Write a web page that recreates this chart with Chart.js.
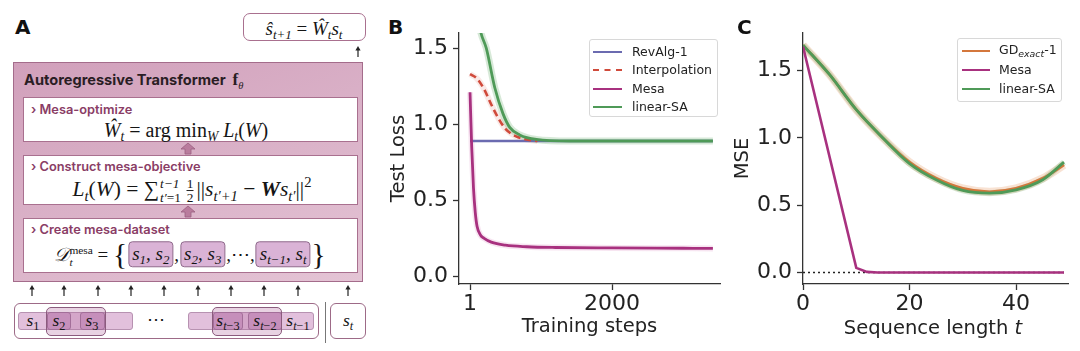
<!DOCTYPE html>
<html><head><meta charset="utf-8">
<script src="https://cdn.jsdelivr.net/npm/chart.js@4.4.0/dist/chart.umd.min.js"></script>
<style>
html,body{margin:0;padding:0;background:#fff;width:1080px;height:351px;overflow:hidden;position:relative;font-family:'DejaVu Sans',sans-serif}
.abs{position:absolute}
.plab{position:absolute;font-family:'DejaVu Sans';font-weight:bold;font-size:20px;color:#111;line-height:1}
.math{position:absolute;font-family:'Liberation Serif',serif;font-style:italic;font-size:19px;color:#151515;white-space:nowrap;transform:translate(-50%,-50%);line-height:1}
.math sub{font-size:0.68em;vertical-align:-0.32em;line-height:0}
.math sup{font-size:0.68em;vertical-align:0.6em;line-height:0}
.up{font-style:normal}
.wbox{position:absolute;background:#fff;border:1.2px solid #a9708f;box-sizing:border-box}
.big{position:absolute;border:1.4px solid #a46c8b;box-sizing:border-box;background:linear-gradient(160deg,#d1a0bb 0%,#dbb3c9 55%,#e4c4d5 100%)}
.head{position:absolute;font-family:Inter,'Noto Sans',sans-serif;font-weight:700;font-size:14.6px;color:#2a1d24;line-height:1;white-space:nowrap}
.sub{position:absolute;font-family:Inter,'Noto Sans',sans-serif;font-weight:600;font-size:12.8px;color:#8a3d66;line-height:1;white-space:nowrap}
.lim{display:inline-flex;flex-direction:column;font-size:0.62em;vertical-align:middle;line-height:1.05;margin:0 3px 0 1px}
.frac{display:inline-flex;flex-direction:column;font-size:0.62em;vertical-align:middle;line-height:1;font-style:normal;margin:0 3px}
.frac span:first-child{border-bottom:1px solid #222}
.hb{display:inline-block;background:#dab3d6;border:1px solid #8f6a8c;border-radius:4px;padding:2px 3px 3px 3px;margin:0 1px}
.brace{font-style:normal;font-size:1.55em;vertical-align:-0.12em;font-weight:300}
.sbsp{display:inline-flex;flex-direction:column;font-size:0.6em;vertical-align:middle;line-height:1.1;font-style:normal}
.strip{position:absolute;background:#e2c0dc;border:1px solid #b792b1;border-radius:3px;box-sizing:border-box}
.sbx{position:absolute;background:#cf9fc8;border:1px solid #9c7097;border-radius:3px;box-sizing:border-box}
.grp{position:absolute;background:rgba(180,105,160,0.30);border:1px solid #8b5b7d;border-radius:5px;box-sizing:border-box}
.sm{position:absolute;font-family:'Liberation Serif',serif;font-style:italic;font-size:17.5px;color:#151515;transform:translate(-50%,-50%);white-space:nowrap;line-height:1}
.sm sub{font-size:0.7em;vertical-align:-0.3em;line-height:0;font-style:normal}
.sm sub i{font-style:italic}
.leg{position:absolute;border:1px solid #d8d8d8;border-radius:3px;background:rgba(255,255,255,0.85);box-sizing:border-box}
.lrow{position:absolute;font-family:'DejaVu Sans';font-size:12.5px;color:#222;line-height:1;white-space:nowrap;transform:translateY(-50%)}
.lline{position:absolute;height:0;transform:translateY(-50%)}
</style></head>
<body>
<!-- Panel A diagram -->
<div class="plab" style="left:15px;top:17px">A</div>
<div class="wbox" style="left:243px;top:13px;width:123px;height:28px;border-radius:7px"></div>
<div class="math" style="left:304px;top:28px">ŝ<sub>t+1</sub> <span class="up">=</span> Ŵ<sub>t</sub>s<sub>t</sub></div>
<div class="big" style="left:13px;top:62px;width:350px;height:220px"></div>
<div class="head" style="left:24px;top:71px">Autoregressive Transformer&nbsp;&nbsp;<span style="font-family:'Liberation Serif';font-size:17px">f</span><sub style="font-family:'Liberation Serif';font-style:italic;font-weight:normal;font-size:10.5px">θ</sub></div>

<div class="wbox" style="left:23px;top:97px;width:335px;height:45px"></div>
<div class="sub" style="left:31px;top:104px">› Mesa-optimize</div>
<div class="math" style="left:186px;top:130px;font-size:20px">Ŵ<sub>t</sub> <span class="up">= arg min</span><sub>W</sub> L<sub>t</sub><span class="up">(</span>W<span class="up">)</span></div>

<div class="wbox" style="left:23px;top:155px;width:335px;height:50px"></div>
<div class="sub" style="left:31px;top:161px">› Construct mesa-objective</div>
<div class="math" style="left:192px;top:191px;font-size:21.5px">L<sub>t</sub><span class="up">(</span>W<span class="up">) = ∑</span><span class="lim"><span>t−1</span><span>t′<span class="up">=1</span></span></span><span class="frac"><span>1</span><span>2</span></span><span class="up">||</span>s<sub>t′+1</sub> <span class="up">−</span> <b>W</b>s<sub>t′</sub><span class="up">||</span><sup class="up">2</sup></div>

<div class="wbox" style="left:23px;top:218px;width:335px;height:55px"></div>
<div class="sub" style="left:31px;top:224px">› Create mesa-dataset</div>
<div class="math" style="left:190px;top:255px"><span>𝒟</span><span class="sbsp"><span>mesa</span><span style="font-style:italic">t</span></span> <span class="up">=</span> <span class="brace">{</span><span class="hb">s<sub>1</sub>, s<sub>2</sub></span>,<span class="hb">s<sub>2</sub>, s<sub>3</sub></span>,<span class="up">⋯</span>,<span class="hb">s<sub>t−1</sub>, s<sub>t</sub></span><span class="brace">}</span></div>

<!-- bottom sequence -->
<div class="wbox" style="left:14px;top:303px;width:305px;height:36px;border-radius:6px;border-color:#9d6a87"></div>
<div class="strip" style="left:18px;top:312px;width:115px;height:18px"></div>
<div class="strip" style="left:188px;top:312px;width:126px;height:18px"></div>
<div class="sbx" style="left:47px;top:312px;width:24px;height:18px"></div>
<div class="sbx" style="left:80px;top:312px;width:25px;height:18px"></div>
<div class="sbx" style="left:213px;top:312px;width:30px;height:18px"></div>
<div class="sbx" style="left:248px;top:312px;width:34px;height:18px"></div>
<div class="grp" style="left:46px;top:307px;width:60px;height:29px"></div>
<div class="grp" style="left:212px;top:307px;width:70px;height:29px"></div>
<div class="sm" style="left:33px;top:321px">s<sub>1</sub></div>
<div class="sm" style="left:59px;top:321px">s<sub>2</sub></div>
<div class="sm" style="left:92px;top:321px">s<sub>3</sub></div>
<div class="sm" style="left:156px;top:320px;font-style:normal">⋯</div>
<div class="sm" style="left:228px;top:321px">s<sub><i>t</i>−3</sub></div>
<div class="sm" style="left:265px;top:321px">s<sub><i>t</i>−2</sub></div>
<div class="sm" style="left:298px;top:321px">s<sub><i>t</i>−1</sub></div>
<div class="abs" style="left:325px;top:302px;width:1px;height:41px;background:#777"></div>
<div class="wbox" style="left:330px;top:303px;width:36px;height:36px;border-radius:6px;border-color:#9d6a87"></div>
<div class="sm" style="left:348px;top:321px">s<sub><i>t</i></sub></div>
<svg id="arrows" class="abs" style="left:0;top:0" width="370" height="351"></svg>

<!-- Panel B -->
<div class="plab" style="left:388px;top:17px">B</div>
<div class="abs" style="left:370px;top:0;width:360px;height:351px"><canvas id="cb" width="360" height="351"></canvas></div>
<div class="leg" style="left:589px;top:39px;width:129px;height:78px"></div>
<div id="legB"></div>

<!-- Panel C -->
<div class="plab" style="left:737px;top:17px">C</div>
<div class="abs" style="left:730px;top:0;width:350px;height:351px"><canvas id="cc" width="350" height="351"></canvas></div>
<div class="abs" style="left:933px;top:328px;transform:translate(-50%,-50%);font-family:'DejaVu Sans';font-size:19.5px;color:#222;white-space:nowrap;line-height:1">Sequence length <i>t</i></div>
<div class="leg" style="left:957px;top:38px;width:105px;height:64px"></div>
<div id="legC"></div>

<script>
// ---------- Panel B data ----------
const bXTicks = [1, 2000];
const bXTickLabels = ['1', '2000'];
const bYTicks = [0, 0.5, 1.0, 1.5];
const bRevSteps = [1, 3420];
const bRevLoss = [0.89, 0.89];
const bInterpSteps = [1, 100, 200, 300, 400, 500, 650, 800, 950];
const bInterpLoss = [1.33, 1.30, 1.23, 1.13, 1.04, 0.97, 0.92, 0.90, 0.89];
const bMesaSteps = [1, 25, 50, 75, 100, 150, 200, 300, 500, 800, 1200, 2000, 3000, 3420];
const bMesaLoss = [1.21, 0.85, 0.58, 0.42, 0.33, 0.27, 0.25, 0.225, 0.205, 0.195, 0.19, 0.187, 0.185, 0.184];
const bLinSteps = [1, 80, 155, 230, 350, 465, 560, 700, 935, 1400, 2400, 3420];
const bLinLoss = [1.95, 1.78, 1.6, 1.5, 1.24, 1.07, 0.98, 0.93, 0.90, 0.89, 0.89, 0.89];
const bLabels = ['RevAlg-1', 'Interpolation', 'Mesa', 'linear-SA'];

// ---------- Panel C data ----------
const cXTicks = [0, 20, 40];
const cYTicks = [0, 0.5, 1.0, 1.5];
const cT = [0, 5, 10, 15, 20, 25, 30, 35, 40, 45, 49];
const cGD = [1.69, 1.47, 1.21, 1.0, 0.82, 0.70, 0.625, 0.60, 0.625, 0.70, 0.80];
const cLin = [1.69, 1.47, 1.21, 1.0, 0.81, 0.69, 0.61, 0.59, 0.615, 0.69, 0.82];
const cMesaT = [0, 10, 12, 14, 49];
const cMesa = [1.68, 0.035, 0.005, 0, 0];
const cZeroT = [0, 49];
const cZero = [0, 0];
const cLabels = ['GD<sub style="font-size:0.75em;font-style:italic">exact</sub>-1', 'Mesa', 'linear-SA'];

const COL = {rev:'#6b6bb0', interp:'#d04a3b', mesa:'#a8317f', lin:'#4f9a58', gd:'#d4773c'};

// ---------- arrows in panel A ----------
(function(){
  const svg = document.getElementById('arrows');
  let s = '';
  function arrow(x, y1, y2){ // head at y1 (top)
    s += `<line x1="${x}" y1="${y2}" x2="${x}" y2="${y1+3}" stroke="#222" stroke-width="1.2"/>`;
    s += `<polygon points="${x-2.6},${y1+4.5} ${x+2.6},${y1+4.5} ${x},${y1}" fill="#222"/>`;
  }
  function block(x, ty, by){
    s += `<polygon points="${x},${ty} ${x+7},${ty+6} ${x+3},${ty+6} ${x+3},${by} ${x-3},${by} ${x-3},${ty+6} ${x-7},${ty+6}" fill="#b97c9d" stroke="#9a5f80" stroke-width="0.8"/>`;
  }
  arrow(358, 46, 57);
  [32,64,98,131,164,198,231,264,298,348].forEach(x=>arrow(x, 285, 296));
  block(188, 143, 154);
  block(188, 206, 217);
  svg.innerHTML = s;
})();

// ---------- legends ----------
function legend(el, x0, sx, tx, rows, items){
  let h = '';
  items.forEach((it, i)=>{
    const st = it.dash ? `border-top:2.6px dashed ${it.c}` : `border-top:2.8px solid ${it.c}`;
    h += `<div class="lline" style="left:${x0}px;top:${rows[i]}px;width:${sx}px;${st}"></div>`;
    h += `<div class="lrow" style="left:${tx}px;top:${rows[i]}px">${it.t}</div>`;
  });
  document.getElementById(el).innerHTML = h;
}
legend('legB', 593, 29, 632, [52, 70, 89, 107], [
  {t:bLabels[0], c:COL.rev}, {t:bLabels[1], c:COL.interp, dash:true}, {t:bLabels[2], c:COL.mesa}, {t:bLabels[3], c:COL.lin}]);
legend('legC', 962, 28, 999, [51, 70, 89], [
  {t:cLabels[0], c:COL.gd}, {t:cLabels[1], c:COL.mesa}, {t:cLabels[2], c:COL.lin}]);

// ---------- charts ----------
function pts(xs, ys){ return xs.map((x,i)=>({x:x, y:ys[i]})); }
function ds(xs, ys, color, width, order, extra){
  return Object.assign({data: pts(xs, ys), borderColor: color, borderWidth: width, pointRadius: 0,
    fill: false, cubicInterpolationMode: 'monotone', order: order}, extra || {});
}
function scales(o){
  const tickFont = {family:'DejaVu Sans', size:22};
  const grid = {display:true, drawOnChartArea:false, drawTicks:true, tickLength:6, tickWidth:1.3, tickColor:'#333'};
  const border = {display:true, color:'#333', width:1.3};
  return {
    x: {type:'linear', min:o.xmin, max:o.xmax,
      afterFit: s=>{ s.height = 67; },
      afterBuildTicks: s=>{ s.ticks = o.xticks.map(v=>({value:v})); },
      ticks: {font:tickFont, color:'#222', padding:1, maxRotation:0, autoSkip:false,
        callback: (v, i)=> o.xlabels ? o.xlabels[i] : String(v)},
      grid: grid, border: border,
      title: {display: !!o.xtitle, text: o.xtitle || '', font:{family:'DejaVu Sans', size:19.5}, color:'#222', padding:{top:0, bottom:12}}},
    y: {type:'linear', min:o.ymin, max:o.ymax,
      afterFit: s=>{ s.width = o.yw; },
      afterBuildTicks: s=>{ s.ticks = o.yticks.map(v=>({value:v})); },
      ticks: {font:tickFont, color:'#222', padding:5, autoSkip:false, callback: v=> v.toFixed(1)},
      grid: grid, border: border,
      title: {display:true, text:o.ytitle, font:{family:'DejaVu Sans', size:19.5}, color:'#222', padding:{top:0, bottom:0}}}
  };
}
const base = {responsive:false, animation:false, devicePixelRatio:1,
  plugins:{legend:{display:false}, tooltip:{enabled:false}}};

new Chart(document.getElementById('cb'), {
  type:'line',
  data:{datasets:[
    ds(bInterpSteps, bInterpLoss, 'rgba(208,74,59,0.12)', 6, 12),
    ds(bMesaSteps, bMesaLoss, 'rgba(210,110,180,0.18)', 6, 11),
    ds(bLinSteps, bLinLoss, 'rgba(110,175,115,0.28)', 7, 10),
    ds(bRevSteps, bRevLoss, COL.rev, 2.4, 3, {label:bLabels[0]}),
    ds(bInterpSteps, bInterpLoss, COL.interp, 2.6, 2, {label:bLabels[1], borderDash:[7,4]}),
    ds(bMesaSteps, bMesaLoss, COL.mesa, 2.8, 1, {label:bLabels[2]}),
    ds(bLinSteps, bLinLoss, COL.lin, 2.8, 0, {label:bLabels[3]})
  ]},
  options: Object.assign({}, base, {
    layout:{padding:{left:17, top:33, right:10, bottom:0}},
    scales: scales({xmin:-154, xmax:3520, ymin:-0.05, ymax:1.6, xticks:bXTicks, xlabels:bXTickLabels,
      yticks:bYTicks, yw:72, xtitle:'Training steps', ytitle:'Test Loss'})
  })
});

new Chart(document.getElementById('cc'), {
  type:'line',
  data:{datasets:[
    ds(cT, cGD, 'rgba(232,160,110,0.30)', 8, 11),
    ds(cT, cLin, 'rgba(110,175,115,0.28)', 6, 10),
    ds(cZeroT, cZero, '#222', 1.6, 3, {borderDash:[2,3], cubicInterpolationMode:'default', tension:0}),
    ds(cT, cGD, COL.gd, 2.8, 2, {label:'GD exact-1'}),
    ds(cT, cLin, COL.lin, 2.8, 1, {label:cLabels[2]}),
    ds(cMesaT, cMesa, COL.mesa, 2.6, 0, {label:cLabels[1], cubicInterpolationMode:'default', tension:0})
  ]},
  options: Object.assign({}, base, {
    layout:{padding:{left:1, top:33, right:12, bottom:0}},
    scales: scales({xmin:0, xmax:49.75, ymin:-0.085, ymax:1.78, xticks:cXTicks,
      yticks:cYTicks, yw:72, xtitle:'', ytitle:'MSE'})
  })
});
</script>
</body></html>
